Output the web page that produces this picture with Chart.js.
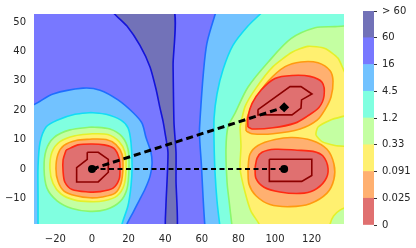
<!DOCTYPE html>
<html>
<head>
<meta charset="utf-8">
<script src="https://cdn.jsdelivr.net/npm/chart.js@4.4.1/dist/chart.umd.min.js"></script>
<style>
  html, body { margin: 0; padding: 0; background: #fff; }
  #wrap { position: relative; width: 416px; height: 248px; }
  #wrap canvas { position: absolute; left: 0; top: 0; }
</style>
</head>
<body>
<div id="wrap">
  <canvas id="mapa" width="416" height="248"></canvas>
  <canvas id="barra" width="416" height="248"></canvas>
</div>
<script>
// Limites y ticks
const xLimits = [-31.7, 137.7];
const yLimits = [-18.7, 52.7];
const xTicks = [-20, 0, 20, 40, 60, 80, 100, 120];
const yTicks = [-10, 0, 10, 20, 30, 40, 50];
const colorbarLabels = ['0', '0.025', '0.091', '0.33', '1.2', '4.5', '16', '60', '> 60'];

// Colores de los niveles (de menor a mayor)
const fillColors = ['#e07070', '#ffb070', '#fff070', '#c4ffa2', '#80ffe0', '#72c2ff', '#7878ff', '#7272b8'];
const lineColors = ['#ff2a12', '#ff9a10', '#e4f02a', '#8af76c', '#12dcf5', '#1f6dff', '#1414d8'];
const innerLineColor = '#8b0000';

// Contornos [x, y]
const darkBand = [[9.8,55.2],[12.0,52.9],[19.1,48.6],[26.2,42.0],[31.7,34.7],[35.0,27.1],[37.2,20.6],[38.8,16.3],[39.9,12.3],[41.5,5.7],[41.0,-4.2],[40.4,-12.4],[40.4,-21.3],[46.4,-21.3],[45.9,-4.2],[45.9,5.7],[44.8,15.6],[44.3,35.4],[44.0,55.2]];
const lightBlueLeft = [[-36.6,21.2],[-31.7,21.9],[-21.3,25.5],[-4.9,27.5],[4.4,26.8],[14.2,23.5],[22.4,19.2],[27.3,15.6],[29.5,10.7],[32.2,5.7],[32.8,1.7],[31.7,-2.5],[29.0,-6.8],[25.7,-10.8],[22.4,-14.8],[19.1,-18.7],[18.0,-21.3],[-36.6,-21.3]];
const lightBlueRight = [[68.9,55.2],[67.8,53.6],[62.8,42.8],[60.7,31.5],[59.0,16.6],[58.7,12.0],[59.8,1.1],[60.7,-9.8],[61.7,-19.4],[62.3,-21.3],[141,-21.3],[141,55.2]];
const aquaLeft = [[-0.5,19.2],[7.7,18.6],[15.8,16.6],[19.7,14.0],[21.3,9.0],[21.9,0.8],[21.3,-5.8],[19.7,-12.4],[16.4,-18.7],[15.8,-21.3],[-29.5,-21.3],[-29.5,-18.7],[-29.5,-9.2],[-29.5,0.8],[-28.4,9.0],[-25.1,14.3],[-19.1,16.6],[-9.3,18.6]];
const aquaRight = [[95.1,55.2],[93.4,53.6],[85.2,48.6],[77.0,42.0],[71.6,33.8],[68.3,25.5],[66.7,17.3],[66.7,9.0],[67.2,-0.9],[68.3,-10.8],[69.9,-19.4],[70.5,-21.3],[141,-21.3],[141,55.2]];
const greenLeft = [[0,14.3],[9.8,13.6],[16.4,11.0],[19.7,6.7],[20.2,0.1],[19.1,-6.8],[15.3,-11.1],[7.7,-13.8],[-1.1,-14.4],[-10.9,-13.4],[-19.1,-10.8],[-24.6,-6.5],[-26.2,0.1],[-25.1,6.4],[-20.8,10.7],[-12.0,13.3]];
const greenRight = [[141,49.0],[137.7,48.6],[132.8,48.4],[121.9,48.0],[108.7,44.3],[96.2,36.3],[85.2,27.8],[78.1,18.9],[74.3,14.3],[73.2,6.7],[73.8,-4.5],[74.9,-10.8],[76.5,-19.4],[77.0,-21.3],[141,-21.3]];
const yellowLeft = [[0,12.0],[8.7,11.7],[14.8,9.3],[18.0,5.7],[18.6,0.1],[17.5,-5.5],[13.7,-9.1],[6.6,-10.8],[-1.1,-11.1],[-9.8,-10.5],[-16.9,-8.5],[-21.3,-4.9],[-23.0,0.1],[-21.9,5.7],[-17.5,9.3],[-9.3,11.3]];
const yellowRight = [[80.9,14.3],[83.6,21.2],[89.6,27.5],[98.9,34.8],[109.3,39.7],[118.0,41.7],[127.3,41.0],[134.4,37.7],[137.7,33.4],[140,31.0],[146,30.0],[146,18.6],[141,18.4],[136.5,17.8],[130.1,16.6],[123.5,14.3],[122.4,11.6],[125.7,9.3],[132.8,8.0],[138.5,7.7],[146,7.5],[146,-12.8],[140,-12.9],[135.5,-14.0],[132.0,-16.0],[130.1,-18.7],[129.5,-21.3],[92.3,-21.3],[91.3,-18.7],[86.9,-14.4],[83.6,-7.8],[80.9,0.1],[81.4,7.7]];
const orangeLeft = [[0,10.2],[7.7,10.0],[13.1,8.3],[16.4,5.0],[16.9,0.1],[15.8,-4.9],[12.6,-8.2],[5.5,-9.5],[-1.1,-9.8],[-8.7,-9.1],[-15.3,-7.5],[-18.6,-4.2],[-19.7,0.1],[-18.6,5.0],[-15.3,8.0],[-8.7,9.7]];
const orangeUpper = [[84.2,12.9],[84.2,14.9],[85.2,18.3],[89.1,23.5],[96.2,29.8],[105.5,34.8],[114.2,36.4],[123.5,36.1],[130.1,33.4],[131.7,29.8],[130.6,24.5],[127.3,20.2],[123.0,16.6],[113.7,13.6],[98.9,12.0],[87.4,12.0]];
const orangeLower = [[85.2,-0.2],[86.3,5.0],[90.7,8.0],[100.0,10.0],[109.3,10.7],[120.2,9.7],[128.4,6.7],[132.2,1.7],[132.2,-3.5],[128.4,-8.2],[119.1,-11.8],[108.2,-12.8],[97.3,-12.1],[89.6,-9.1],[85.8,-5.2]];
const redLeft = [[-14.2,6.4],[-7.7,8.2],[0,8.5],[6.6,8.2],[12.0,7.0],[14.8,3.7],[15.3,0.1],[14.8,-3.5],[11.5,-6.5],[4.4,-7.7],[-2.2,-7.8],[-10.9,-7.0],[-14.8,-4.5],[-15.8,-0.9],[-15.8,3.1]];
const redUpper = [[85.2,14.3],[85.2,17.6],[87.4,22.2],[92.3,26.8],[100.0,30.8],[109.3,31.8],[119.1,31.5],[125.7,29.5],[126.8,24.9],[124.0,20.9],[117.5,17.9],[110.9,15.6],[98.9,14.0],[87.4,13.6]];
const redLower = [[89.1,0.4],[90.2,3.7],[92.9,5.7],[100.0,6.7],[112.0,6.4],[120.8,6.0],[126.2,4.4],[129.0,0.1],[127.3,-3.9],[121.3,-7.2],[113.7,-8.3],[102.7,-7.8],[94.0,-6.2],[89.6,-3.2]];
const innerLeft = [[-2.6,5.7],[3.4,5.7],[8.9,3.3],[8.9,-1.1],[3.4,-4.4],[-8.4,-4.4],[-8.4,0.5],[-2.6,3.3]];
const innerUpper = [[90.7,20.2],[108.2,28.0],[114.2,28.0],[120.2,25.5],[114.5,23.5],[114.2,20.7],[109.3,18.4],[90.7,18.4]];
const innerLower = [[96.9,3.3],[120.1,3.3],[120.1,-2.2],[114.6,-4.2],[96.9,-4.2]];

// Trayectorias y puntos
const pathToDiamond = [[0,0],[105,21]];
const pathToCircle = [[0,0],[105,0]];
const circlePoints = [[0,0],[105,0]];
const diamondPoints = [[105,21]];

const toXY = pts => pts.map(p => ({x: p[0], y: p[1]}));
const fmt = v => String(v).replace('-', '\u2212');

function contorno(pts, fondo, borde, tension) {
    return {
        data: toXY(pts.concat([pts[0]])),
        backgroundColor: fondo || 'rgba(0,0,0,0)',
        borderColor: borde,
        borderWidth: 1.6,
        fill: fondo ? 'shape' : false,
        pointRadius: 0,
        tension: tension,
        clip: 0
    };
}

// Capas de abajo hacia arriba
const capas = [
    contorno(darkBand, fillColors[7], lineColors[6], 0.2),
    contorno(lightBlueLeft, fillColors[5], lineColors[5], 0.3),
    contorno(lightBlueRight, fillColors[5], lineColors[5], 0.3),
    contorno(aquaLeft, fillColors[4], lineColors[4], 0.3),
    contorno(aquaRight, fillColors[4], lineColors[4], 0.3),
    contorno(greenLeft, fillColors[3], lineColors[3], 0.3),
    contorno(greenRight, fillColors[3], lineColors[3], 0.3),
    contorno(yellowLeft, fillColors[2], lineColors[2], 0.3),
    contorno(yellowRight, fillColors[2], lineColors[2], 0.2),
    contorno(orangeLeft, fillColors[1], lineColors[1], 0.3),
    contorno(orangeUpper, fillColors[1], lineColors[1], 0.3),
    contorno(orangeLower, fillColors[1], lineColors[1], 0.3),
    contorno(redLeft, fillColors[0], lineColors[0], 0.3),
    contorno(redUpper, fillColors[0], lineColors[0], 0.3),
    contorno(redLower, fillColors[0], lineColors[0], 0.3),
    contorno(innerLeft, null, innerLineColor, 0),
    contorno(innerUpper, null, innerLineColor, 0),
    contorno(innerLower, null, innerLineColor, 0),
    {
        data: toXY(pathToCircle), borderColor: '#000', borderWidth: 2,
        borderDash: [5, 3.5], pointRadius: 0, fill: false, clip: 0
    },
    {
        data: toXY(pathToDiamond), borderColor: '#000', borderWidth: 3,
        borderDash: [7, 4], pointRadius: 0, fill: false, clip: 0
    },
    {
        data: toXY(circlePoints), showLine: false, pointStyle: 'circle', pointRadius: 4,
        pointBackgroundColor: '#000', pointBorderWidth: 0, fill: false
    },
    {
        data: toXY(diamondPoints), showLine: false, pointStyle: 'rectRot', pointRadius: 5,
        pointBackgroundColor: '#000', pointBorderWidth: 0, fill: false
    }
];
capas.forEach((c, i) => { c.order = capas.length - i; });

// Fondo del area (nivel 16 - 60)
const fondoArea = {
    id: 'fondoArea',
    beforeDatasetsDraw(chart) {
        const a = chart.chartArea;
        chart.ctx.save();
        chart.ctx.fillStyle = fillColors[6];
        chart.ctx.fillRect(a.left, a.top, a.right - a.left, a.bottom - a.top);
        chart.ctx.restore();
    }
};

Chart.defaults.font.family = "'DejaVu Sans', sans-serif";
Chart.defaults.font.size = 10;
Chart.defaults.color = '#262626';

new Chart(document.getElementById('mapa'), {
    type: 'line',
    data: { datasets: capas },
    plugins: [fondoArea],
    options: {
        responsive: false,
        devicePixelRatio: 1,
        animation: false,
        layout: { padding: { top: 7, right: 72, left: 0, bottom: 0 } },
        plugins: {
            legend: { display: false },
            tooltip: { enabled: false },
            filler: { drawTime: 'beforeDatasetDraw' }
        },
        scales: {
            x: {
                type: 'linear', min: xLimits[0], max: xLimits[1], z: 1,
                afterBuildTicks: s => { s.ticks = xTicks.map(v => ({ value: v })); },
                afterFit: s => { s.height = 24; },
                grid: { color: 'rgba(235,235,235,0.6)', drawTicks: false },
                border: { display: false },
                ticks: { padding: 9, callback: v => fmt(v), maxRotation: 0 }
            },
            y: {
                type: 'linear', min: yLimits[0], max: yLimits[1], z: 1,
                afterBuildTicks: s => { s.ticks = yTicks.map(v => ({ value: v })); },
                afterFit: s => { s.width = 34; },
                grid: { color: 'rgba(235,235,235,0.6)', drawTicks: false },
                border: { display: false },
                ticks: { padding: 8, callback: v => fmt(v) }
            }
        }
    }
});

// Barra de colores
new Chart(document.getElementById('barra'), {
    type: 'bar',
    data: {
        labels: [''],
        datasets: fillColors.map(c => ({
            data: [1], backgroundColor: c, borderWidth: 0,
            categoryPercentage: 1, barPercentage: 1
        }))
    },
    options: {
        responsive: false,
        devicePixelRatio: 1,
        animation: false,
        layout: { padding: { top: 8, bottom: 23, left: 363, right: 0 } },
        plugins: { legend: { display: false }, tooltip: { enabled: false } },
        scales: {
            x: { stacked: true, display: false },
            y: {
                stacked: true, position: 'right', min: 0, max: fillColors.length,
                afterBuildTicks: s => { s.ticks = colorbarLabels.map((l, i) => ({ value: i })); },
                afterFit: s => { s.width = 42; },
                grid: { drawOnChartArea: false, drawTicks: true, tickLength: 3, color: '#333' },
                border: { display: false },
                ticks: { padding: 5, callback: v => colorbarLabels[v] }
            }
        }
    }
});
</script>
</body>
</html>
